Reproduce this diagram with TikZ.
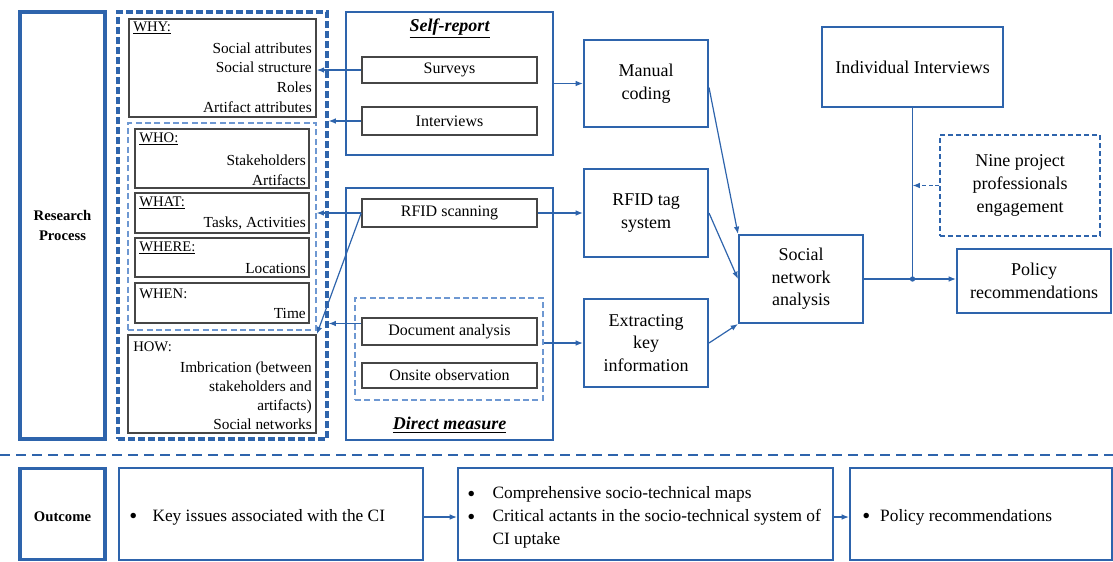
\documentclass[tikz,border=0pt]{standalone}
\usepackage{fontspec}
\setmainfont{Liberation Serif}
\usetikzlibrary{positioning,arrows.meta,calc}
\definecolor{mainblue}{RGB}{46,100,172}
\definecolor{lightblue}{RGB}{110,152,210}
\definecolor{boxgray}{RGB}{70,70,70}
\newcommand{\bigbullet}{\raisebox{-2pt}{\fontsize{17}{17}\selectfont\textbullet}}
\tikzset{
    wh/.style 2 args = {
        minimum width=#1*0.75pt,
        minimum height=#2*0.75pt
    },
    block/.style = {
        draw=mainblue,
        shape=rectangle,
        inner sep=0pt,
        line width=1.5pt,
        align=center,
        font=\fontsize{13.5}{17}\selectfont
    },
    outerbox/.style = {
        draw=mainblue,
        shape=rectangle,
        inner sep=0pt,
        line width=2.3pt,
        align=center,
        font=\fontsize{11}{15}\selectfont\bfseries
    },
    grp/.style = {
        draw=mainblue,
        shape=rectangle,
        inner sep=0pt,
        line width=2.3pt,
        dash pattern=on 5pt off 2.5pt
    },
    subgrp/.style = {
        draw=lightblue,
        shape=rectangle,
        inner sep=0pt,
        line width=0.9pt,
        dash pattern=on 4.5pt off 2.5pt
    },
    entry/.style = {
        draw=boxgray,
        shape=rectangle,
        inner sep=0pt,
        line width=1.2pt,
        font=\fontsize{12}{14}\selectfont
    },
    hdr/.style = {
        anchor=west,
        inner sep=0pt,
        font=\fontsize{11}{14}\selectfont
    },
    lst/.style = {
        anchor=east,
        inner sep=0pt,
        align=right,
        font=\fontsize{11.5}{14.8}\selectfont
    },
    boxtitle/.style = {
        inner sep=0pt,
        font=\fontsize{13.5}{16}\selectfont\bfseries\itshape
    },
    bottomtxt/.style = {
        anchor=west,
        inner sep=0pt,
        font=\fontsize{13}{17.25}\selectfont
    },
    conn/.style = {
        draw=mainblue,
        line width=0.9pt
    },
    >={Latex[length=5.5pt,width=4.2pt]},
}

\begin{document}
\begin{tikzpicture}[x=0.75pt,y=-0.75pt]
                \useasboundingbox (0,0) rectangle (1113,561);

                % research process column
                \node[outerbox, wh={85}{427}] (proc) at (62.5,225.5) {Research\\Process};
                \node[grp, wh={209}{427}] (outer) at (222.5,225.5) {};
                \node[entry, wh={187}{98}] (why) at (222.5,68) {};
                \node[subgrp, wh={188}{207}] (inner) at (222,226.5) {};
                \node[entry, wh={174}{59}] (who) at (222,158.5) {};
                \node[entry, wh={174}{40}] (what) at (222,213) {};
                \node[entry, wh={174}{39}] (where) at (222,257.5) {};
                \node[entry, wh={174}{40}] (when) at (222,303) {};
                \node[entry, wh={188}{98}] (how) at (222,384) {};

                \node[hdr] (whyhdr) at (133,28) {\underline{WHY:}};
                \node[lst] (whylst) at (312,77.5) {Social attributes\\Social structure\\Roles\\Artifact attributes};
                \node[hdr] (whohdr) at (139,139) {\underline{WHO:}};
                \node[lst] (wholst) at (306,170) {Stakeholders\\Artifacts};
                \node[hdr] (whathdr) at (139,203) {\underline{WHAT:}};
                \node[lst] (whatlst) at (306,223) {Tasks, Activities};
                \node[hdr] (wherehdr) at (139,248) {\underline{WHERE:}};
                \node[lst] (wherelst) at (306,268) {Locations};
                \node[hdr] (whenhdr) at (139,294) {WHEN:};
                \node[lst] (whenlst) at (306,313) {Time};
                \node[hdr] (howhdr) at (133,347) {HOW:};
                \node[lst, font=\fontsize{11.5}{14.3}\selectfont] (howlst) at (312,395.5) {Imbrication (between\\stakeholders and\\artifacts)\\Social networks};

                % data collection
                \node[block, wh={207}{143}] (selfrep) at (449.5,83.5) {};
                \node[boxtitle] (selftitle) at (449.5,28) {\underline{Self-report}};
                \node[entry, wh={175}{26}] (surveys) at (449.5,70) {Surveys};
                \node[entry, wh={175}{28}] (intv) at (449.5,121) {Interviews};
                \node[block, wh={207}{252}] (direct) at (449.5,314) {};
                \node[entry, wh={175}{28}] (rfid) at (449.5,213) {RFID scanning};
                \node[subgrp, wh={188}{102}] (obsgrp) at (449,349) {};
                \node[entry, wh={175}{27}] (docan) at (449.5,331.5) {Document analysis};
                \node[entry, wh={175}{25}] (onsite) at (449.5,375.5) {Onsite observation};
                \node[boxtitle] (directtitle) at (449.5,425) {\underline{Direct measure}};
                \coordinate (docfrom) at ([yshift=6pt]docan.west);

                % processing and analysis
                \node[block, wh={124}{87}] (manual) at (646,83.5) {Manual\\coding};
                \node[block, wh={124}{88}] (tag) at (646,213) {RFID tag\\system};
                \node[block, wh={124}{88}] (extract) at (646,343) {Extracting\\key\\information};
                \node[block, wh={124}{88}] (sna) at (801,279) {Social\\network\\analysis};
                \node[block, wh={181}{80}] (indiv) at (912.5,67) {Individual Interviews};
                \node[block, wh={160}{101}, line width=1.1pt, dash pattern=on 3.5pt off 2.5pt] (nine) at (1020,185.5) {Nine project\\professionals\\engagement};
                \node[block, wh={154}{64}] (policy) at (1034,281) {Policy\\recommendations};
                \coordinate (jn) at (indiv.south |- sna.east);
                \coordinate (manfrom) at ([yshift=-3pt]manual.east);

                \path[conn, ->] (surveys.west) -- (why.east |- surveys.west);
                \path[conn, ->] (intv.west) -- (outer.east |- intv.west);
                \path[conn, ->] (rfid.west) -- (inner.east |- rfid.west);
                \path[conn, ->] (rfid.west) -- (how.north east);
                \path[conn, ->] (docfrom) -- (outer.east |- docfrom);
                \path[conn, ->] (selfrep.east) -- (manual.west);
                \path[conn, ->] (rfid.east) -- (tag.west);
                \path[conn, ->] (obsgrp.east |- extract.west) -- (extract.west);
                \path[conn, ->] (manfrom) -- (sna.north west);
                \path[conn, ->] (tag.east) -- (sna.west);
                \path[conn, ->] (extract.east) -- (sna.south west);
                \path[conn, ->] (sna.east) -- (jn) -- (policy.west |- jn);
                \path[conn] (indiv.south) -- (jn);
                \path[conn, ->, dash pattern=on 3pt off 2pt] (nine.west) -- (jn |- nine.west);
                \fill[mainblue] (jn) circle (2pt);

                % separator
                \draw[mainblue, line width=1.6pt, dash pattern=on 7.5pt off 4.5pt] (0,455) -- (1113,455);

                % outcome row
                \node[outerbox, wh={85}{91}] (outcome) at (62.5,514) {};
                \node[inner sep=0pt, font=\fontsize{11}{15}\selectfont\bfseries] (outtxt) at (62.5,517) {Outcome};
                \node[block, wh={304}{92}] (keyiss) at (271,514) {};
                \node[block, wh={375}{92}] (maps) at (645.5,514) {};
                \node[block, wh={262}{92}] (polrec) at (981,514) {};
                \node[bottomtxt] (keytxt) at (129,517) {\bigbullet\hspace{11.5pt}Key issues associated with the CI};
                \node[bottomtxt] (mapstxt) at (467,517) {\begin{tabular}{@{}l@{\hspace{13pt}}l@{}}
                    \bigbullet & Comprehensive socio-technical maps\\
                    \bigbullet & Critical actants in the socio-technical system of\\
                    & CI uptake
                \end{tabular}};
                \node[bottomtxt] (poltxt) at (862,517) {\bigbullet\hspace{7.5pt}Policy recommendations};

                \path[conn, ->] (keyiss.east |- keytxt) -- (maps.west |- keytxt);
                \path[conn, ->] (maps.east |- keytxt) -- (polrec.west |- keytxt);
            \end{tikzpicture}
\end{document}
